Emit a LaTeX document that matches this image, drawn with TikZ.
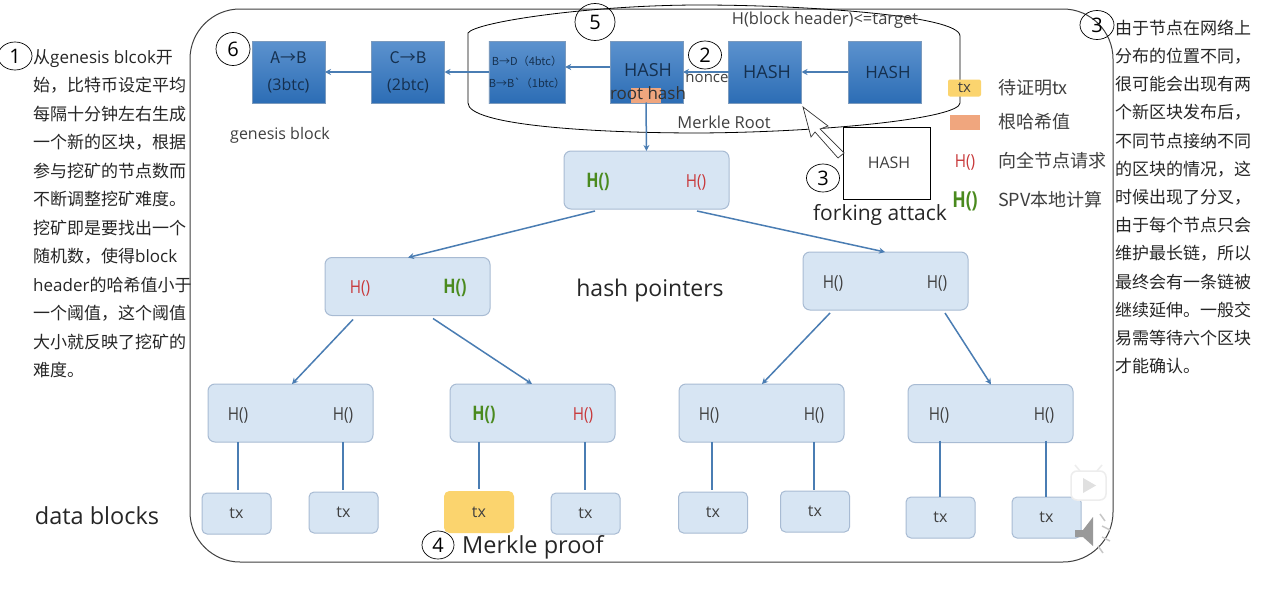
\documentclass[tikz,border=0pt]{standalone}
\usepackage{fontspec}
\setmainfont{Open Sans}
\newfontfamily\zhf{Noto Sans CJK SC}
\newcommand{\zh}[1]{{\zhf #1}}
\newcommand{\fs}[1]{\fontsize{#1}{#1}\selectfont}
\usetikzlibrary{arrows.meta,calc,shapes.geometric,shadows}
\definecolor{lnk}{HTML}{4A7DB3}
\definecolor{lightb}{HTML}{D7E5F3}
\definecolor{lightd}{HTML}{A8BBD3}
\definecolor{gtop}{HTML}{5C92CE}
\definecolor{gbot}{HTML}{2C6DB5}
\definecolor{gtxt}{HTML}{15304F}
\definecolor{hred}{HTML}{C8383A}
\definecolor{hgreen}{HTML}{4A8A1E}
\definecolor{gold}{HTML}{FBD46E}
\definecolor{orng}{HTML}{F0A67E}
\definecolor{dark}{HTML}{404040}
\tikzset{
  blockbox/.style={draw=gbot!80!black!60,line width=.5pt,top color=gtop,bottom color=gbot,text=gtxt,minimum width=73,minimum height=62,inner sep=0pt,outer sep=0pt,align=center,drop shadow={shadow xshift=.6pt,shadow yshift=-1pt,opacity=.35,fill=black!60}},
  treebox/.style={draw=lightd,line width=1pt,fill=lightb,rounded corners=7,minimum width=165,minimum height=58,inner sep=0pt,outer sep=0pt},
  txbox/.style={draw=lightd,line width=1pt,fill=lightb,rounded corners=5,minimum width=69,minimum height=41,inner sep=0pt,outer sep=0pt,text=dark,font=\fs{16}},
  numcirc/.style={draw=black,line width=.7pt,ellipse,inner sep=0pt,text=black,font=\fs{20}},
  arr/.style={lnk,line width=1.5pt,-{Stealth[length=6pt,width=6pt]}},
  tie/.style={lnk,line width=1.5pt},
  hdark/.style={text=dark,font=\fs{18},xscale=.85,transform shape},
  hr/.style={text=hred,font=\fs{18},xscale=.85,transform shape},
  hg/.style={text=hgreen,font=\bfseries\fs{20},xscale=.8,transform shape},
  legendlab/.style={text=dark,anchor=west,font=\zhf\fs{18},inner sep=0pt},
  para/.style={anchor=north west,align=left,inner sep=0pt,text=black!85}
}
\begin{document}
\begin{tikzpicture}[x=1pt,y=-1pt]
\useasboundingbox (0,0) rectangle (1261,589);
\fill[white] (0,0) rectangle (1261,589);

% frame
\draw[dark,line width=1pt,rounded corners=50] (190,9) rectangle (1113,562);

% blocks
\node[blockbox,font=\fs{16}] (ba) at (288.5,72) {\zh{A→B}\\[11pt](3btc)};
\node[blockbox,font=\fs{16}] (bc) at (408,72) {\zh{C→B}\\[11pt](2btc)};
\node[blockbox,font=\fs{11}] (bb) at (527,72) {\zh{B→D（4btc）}\\[11pt]\zh{B→B`（1btc）}};
\node[blockbox] (h1) at (646.5,72) {};
\node[blockbox,font=\fs{18}] (h2) at (765,72) {\hspace{4pt}HASH};
\node[blockbox,font=\fs{17}] (h3) at (884.5,72) {\hspace{7pt}HASH};
\node[fill=orng,minimum width=30,minimum height=15,inner sep=0pt,outer sep=0pt] (rh) at (646,95) {};
\node[text=gtxt,font=\fs{18},inner sep=0pt] (h1t) at (648,70) {HASH};
\node[text=black!80,font=\fs{17},inner sep=0pt] (rht) at (648,93) {root hash};

% capsule
\draw[black,line width=.8pt] (468,103) -- (468,33) .. controls (475,22) and (590,5) .. (700,5) .. controls (800,5) and (960,15) .. (960,36) -- (960,103) .. controls (960,118) and (830,132) .. (700,133) .. controls (590,133) and (468,125) .. (468,103) -- cycle;

\draw[arr] (h3.west) -- (h2.east);
\draw[arr] (h2.west) -- (h1.east);
\draw[arr] ([yshift=5]h1.west) -- ([yshift=5]bb.east);
\draw[arr] (bb.west) -- (bc.east);
\draw[arr] (bc.west) -- (ba.east);

% labels around chain
\node[text=dark,font=\fs{16.5},inner sep=0pt] (tgt) at (825,20) {H(block header)<=target};
\node[text=dark,font=\fs{15},inner sep=0pt] (nc) at (707,78) {nonce};
\node[text=dark,font=\fs{16.5},inner sep=0pt] (mr) at (724,122) {Merkle Root};
\node[text=dark,font=\fs{16},inner sep=0pt] (gb) at (280,135) {genesis block};

% tree
\node[treebox] (root) at (646.5,180) {};
\node[treebox] (nl) at (407.5,286.5) {};
\node[treebox] (nr) at (885.5,281) {};
\node[treebox] (ll) at (290.5,413) {};
\node[treebox] (lr) at (532.5,413) {};
\node[treebox] (rl) at (761.5,413) {};
\node[treebox] (rr) at (990.5,413.5) {};
\node[hg] at (598,182) {H()};
\node[hr] at (696,182) {H()};
\node[hr] at (360,288) {H()};
\node[hg] at (455,288) {H()};
\node[hdark] at (833,283) {H()};
\node[hdark] at (937,283) {H()};
\node[hdark] at (238,415) {H()};
\node[hdark] at (343,415) {H()};
\node[hg] at (484,415) {H()};
\node[hr] at (583,415) {H()};
\node[hdark] at (709,415) {H()};
\node[hdark] at (814,415) {H()};
\node[hdark] at (939,415) {H()};
\node[hdark] at (1044,415) {H()};

\node[txbox] (t1) at (236.5,513.5) {tx};
\node[txbox] (t2) at (343.5,512.5) {tx};
\node[txbox,fill=gold,draw=gold] (t3) at (479,512) {tx};
\node[txbox] (t4) at (585.5,513.5) {tx};
\node[txbox] (t5) at (713,512.5) {tx};
\node[txbox] (t6) at (815,511.5) {tx};
\node[txbox] (t7) at (940.5,517.5) {tx};
\node[txbox] (t8) at (1046.5,517.5) {tx};

\draw[arr] (rh.south) -- (root.north);
\draw[arr] ([xshift=31,yshift=-2]root.south west) -- ([xshift=83]nl.north west);
\draw[arr] ([xshift=133,yshift=-2]root.south west) -- ([xshift=82]nr.north west);
\draw[arr] ([xshift=28,yshift=-4]nl.south west) -- ([xshift=84]ll.north west);
\draw[arr] ([xshift=108,yshift=-3]nl.south west) -- ([xshift=82]lr.north west);
\draw[arr] ([xshift=27,yshift=-3]nr.south west) -- ([xshift=83]rl.north west);
\draw[arr] ([xshift=142,yshift=-3]nr.south west) -- ([xshift=83]rr.north west);
\draw[tie] ([xshift=30]ll.south west) -- ([xshift=1.5,yshift=3]t1.north);
\draw[tie] ([xshift=135]ll.south west) -- ([xshift=-.5,yshift=2]t2.north);
\draw[tie] ([xshift=29]lr.south west) -- ([yshift=3]t3.north);
\draw[tie] ([xshift=135]lr.south west) -- ([xshift=-.5,yshift=3]t4.north);
\draw[tie] ([xshift=33]rl.south west) -- ([xshift=-1,yshift=2]t5.north);
\draw[tie] ([xshift=135]rl.south west) -- ([xshift=-1,yshift=1]t6.north);
\draw[tie] ([xshift=32,yshift=2]rr.south west) -- ([xshift=-.5]t7.north);
\draw[tie] ([xshift=138,yshift=2]rr.south west) -- ([xshift=-.5]t8.north);

% forking attack
\node[draw=black,line width=.8pt,fill=white,minimum width=87,minimum height=72,inner sep=0pt,outer sep=0pt,text=dark,font=\fs{16}] (fork) at (886.5,163) {\hspace{5pt}HASH};
\draw[black!80,line width=.7pt,fill=white] (803,107) -- (828,126) -- (820,129) -- (844,153) -- (838,158) -- (815,132) -- (811,137) -- cycle;
\node[text=black!85,font=\fs{21},inner sep=0pt] (fa) at (880,215) {forking attack};

% main captions
\node[text=black!85,font=\fs{23},inner sep=0pt] (hp) at (650,291) {hash pointers};
\node[text=black!85,font=\fs{23.5},inner sep=0pt] (db) at (97,516) {data blocks};
\node[text=black!85,font=\fs{23.5},inner sep=0pt,anchor=west] (mp) at (462,547) {Merkle proof};

% numbered circles
\node[numcirc,minimum width=34,minimum height=28,fill=white] (c1) at (15,56) {1};
\node[numcirc,minimum width=40,minimum height=37] (c5) at (595,22) {5};
\node[numcirc,minimum width=34,minimum height=33] (c6) at (233,49) {6};
\node[numcirc,minimum width=33,minimum height=28] (c2) at (705,55) {2};
\node[numcirc,minimum width=34,minimum height=29] (c3a) at (1097,25) {3};
\node[numcirc,minimum width=33,minimum height=28] (c3b) at (823,178) {3};
\node[numcirc,minimum width=32,minimum height=28] (c4) at (438,545) {4};

% legend
\node[fill=gold,rounded corners=2,minimum width=33,minimum height=17,inner sep=0pt,text=dark,font=\fs{15}] (lg1) at (964.5,88) {tx};
\node[legendlab] at (998,88) {待证明tx};
\node[fill=orng,minimum width=30,minimum height=15,inner sep=0pt] (lg2) at (964.5,122.5) {};
\node[legendlab] at (998,122) {根哈希值};
\node[hr] at (965,162) {H()};
\node[legendlab] at (998,161) {向全节点请求};
\node[hg,font=\bfseries\fs{22}] at (965,201) {H()};
\node[legendlab] at (998,200) {SPV本地计算};

% side texts
\node[para,font=\fontsize{17}{28.5}\selectfont] (ptl) at (33,49) {
\zh{从}genesis blcok\zh{开}\\
\zh{始，比特币设定平均}\\
\zh{每隔十分钟左右生成}\\
\zh{一个新的区块，根据}\\
\zh{参与挖矿的节点数而}\\
\zh{不断调整挖矿难度。}\\
\zh{挖矿即是要找出一个}\\
\zh{随机数，使得}block\\
header\zh{的哈希值小于}\\
\zh{一个阈值，这个阈值}\\
\zh{大小就反映了挖矿的}\\
\zh{难度。}};
\node[para,font=\zhf\fontsize{17}{28.2}\selectfont] (ptr) at (1115,19.5) {
由于节点在网络上\\
分布的位置不同，\\
很可能会出现有两\\
个新区块发布后，\\
不同节点接纳不同\\
的区块的情况，这\\
时候出现了分叉，\\
由于每个节点只会\\
维护最长链，所以\\
最终会有一条链被\\
继续延伸。一般交\\
易需等待六个区块\\
才能确认。};

% player icons
\draw[black!7,fill=white,line width=1.5pt,rounded corners=6] (1071,471) rectangle (1106,500);
\draw[black!7,line width=1.5pt] (1080,471) -- (1075,465) (1097,471) -- (1102,465);
\fill[black!12] (1083,478) -- (1096,485.5) -- (1083,493) -- cycle;
\fill[black!40] (1075,530) -- (1083,530) -- (1093,517) -- (1093,546) -- (1083,537) -- (1075,537) -- cycle;
\draw[black!22,line width=1.5pt] (1100,514) -- (1105,521) (1102,526) -- (1110,530) (1102,537) -- (1110,541) (1098,546) -- (1103,553);
\end{tikzpicture}
\end{document}
